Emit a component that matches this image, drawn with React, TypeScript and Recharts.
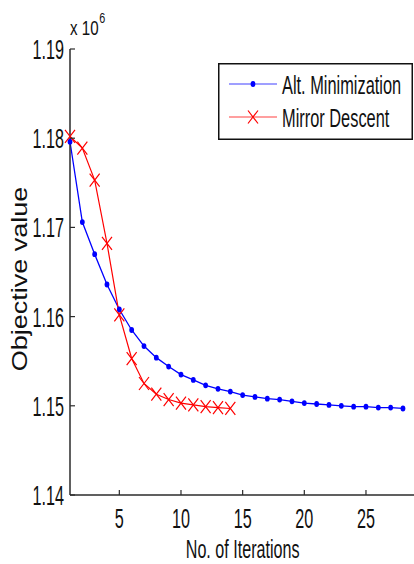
import React from "react";
import { LineChart, Line, XAxis, YAxis, Legend } from "recharts";

// objective value (x 10^6) per iteration
const iterations = [
  1, 2, 3, 4, 5, 6, 7, 8, 9, 10, 11, 12, 13, 14, 15, 16, 17, 18, 19, 20, 21,
  22, 23, 24, 25, 26, 27, 28,
];
const altMinimization = [
  1.1796, 1.1706, 1.167, 1.1636, 1.1608, 1.1585, 1.1567, 1.1554, 1.1544,
  1.1535, 1.1529, 1.1523, 1.1519, 1.1516, 1.1512, 1.151, 1.1508, 1.1507,
  1.1505, 1.1503, 1.1502, 1.1501, 1.15, 1.1499, 1.1499, 1.1498, 1.1498,
  1.1497,
];
const mirrorDescent = [
  1.1802, 1.1789, 1.1753, 1.1682, 1.1602, 1.1553, 1.1525, 1.1513, 1.1507,
  1.1503, 1.1501, 1.1499, 1.1498, 1.1497,
];
const xTicks = [5, 10, 15, 20, 25];
const yTicks = [1.14, 1.15, 1.16, 1.17, 1.18, 1.19];

const data = iterations.map((it, i) => ({
  it,
  alt: altMinimization[i],
  mirror: i < mirrorDescent.length ? mirrorDescent[i] : null,
}));

const BLUE = "#0000ff";
const RED = "#ff0000";
const AXIS = "#2b2b2b";
const FONT = "'Liberation Sans', Arial, Helvetica, sans-serif";
const TICK_LEN = 5;
const SX = 0.6; // glyphs are drawn narrow

const txt = (size: number) => ({
  fontFamily: FONT,
  fontSize: size,
  fill: "#111",
});

function BottomTick({ x, y, payload }: any) {
  return (
    <g>
      <line x1={x} y1={y} x2={x} y2={y - TICK_LEN} stroke={AXIS} strokeWidth={1.2} />
      <text
        transform={`translate(${x},${y + 33}) scale(${SX},1)`}
        textAnchor="middle"
        {...txt(27)}
      >
        {payload.value}
      </text>
    </g>
  );
}

function TopTick({ x, y }: any) {
  return <line x1={x} y1={y} x2={x} y2={y + TICK_LEN} stroke={AXIS} strokeWidth={1.2} />;
}

function LeftTick({ x, y, payload }: any) {
  return (
    <g>
      <line x1={x} y1={y} x2={x + TICK_LEN} y2={y} stroke={AXIS} strokeWidth={1.2} />
      <text
        transform={`translate(${x - 6},${y + 10}) scale(${SX},1)`}
        textAnchor="end"
        {...txt(27)}
      >
        {Number(payload.value).toFixed(2)}
      </text>
    </g>
  );
}

function RightTick({ x, y }: any) {
  return <line x1={x} y1={y} x2={x - TICK_LEN} y2={y} stroke={AXIS} strokeWidth={1.2} />;
}

function Cross({ cx, cy }: any) {
  if (cx == null || cy == null) return <g />;
  const w = 5;
  const h = 6.5;
  return (
    <path
      d={`M${cx - w},${cy - h}L${cx + w},${cy + h}M${cx - w},${cy + h}L${cx + w},${cy - h}`}
      stroke={RED}
      strokeWidth={1.2}
      fill="none"
    />
  );
}

function Dot({ cx, cy }: any) {
  if (cx == null || cy == null) return <g />;
  return <ellipse cx={cx} cy={cy} rx={2.4} ry={2.9} fill={BLUE} />;
}

function YTitle({ viewBox }: any) {
  const cy = viewBox.y + viewBox.height / 2 + 7;
  return (
    <text
      transform={`translate(${viewBox.x + 19},${cy}) rotate(-90) scale(1,0.8)`}
      textAnchor="middle"
      {...txt(27)}
    >
      Objective value
    </text>
  );
}

function XTitle({ viewBox }: any) {
  return (
    <text
      transform={`translate(${viewBox.x + viewBox.width / 2},${viewBox.y + 63}) scale(0.62,1)`}
      textAnchor="middle"
      {...txt(26)}
    >
      No. of Iterations
    </text>
  );
}

function LegendBox() {
  const rows = [
    { name: "Alt. Minimization", color: BLUE, y: 21, dot: true },
    { name: "Mirror Descent", color: RED, y: 54, dot: false },
  ];
  return (
    <svg width={195} height={77}>
      <rect x={0.75} y={0.75} width={193.5} height={75.5} fill="#fff" stroke="#111" strokeWidth={1.5} />
      {rows.map((r) => (
        <g key={r.name}>
          <line x1={11} y1={r.y} x2={59} y2={r.y} stroke={r.color} strokeWidth={1.2} strokeOpacity={0.75} />
          {r.dot ? (
            <Dot cx={35} cy={r.y} />
          ) : (
            <Cross cx={35} cy={r.y} />
          )}
          <text transform={`translate(64,${r.y + 9.5}) scale(0.63,1)`} {...txt(26)}>
            {r.name}
          </text>
        </g>
      ))}
    </svg>
  );
}

export default function App() {
  return (
    <div
      style={{
        position: "absolute",
        left: 0,
        top: 0,
        width: 414,
        height: 564,
        overflow: "hidden",
        background: "#fff",
      }}
    >
      <LineChart
        width={430}
        height={564}
        data={data}
        margin={{ top: 49, right: 14.7, bottom: 39, left: 8 }}
      >
        <XAxis
          dataKey="it"
          type="number"
          domain={[1, 29]}
          ticks={xTicks}
          height={30}
          tickSize={0}
          tickMargin={0}
          tickLine={false}
          axisLine={{ stroke: AXIS, strokeWidth: 1.5 }}
          tick={<BottomTick />}
          label={{ content: (p: any) => <XTitle {...p} /> }}
        />
        <XAxis
          xAxisId="top"
          orientation="top"
          dataKey="it"
          type="number"
          domain={[1, 29]}
          ticks={xTicks}
          height={0}
          tickSize={0}
          tickMargin={0}
          tickLine={false}
          axisLine={{ stroke: AXIS, strokeWidth: 1.5 }}
          tick={<TopTick />}
        />
        <YAxis
          type="number"
          domain={[1.14, 1.19]}
          ticks={yTicks}
          width={62}
          tickSize={0}
          tickMargin={0}
          tickLine={false}
          axisLine={{ stroke: AXIS, strokeWidth: 1.5 }}
          tick={<LeftTick />}
          allowDataOverflow
          label={{ content: (p: any) => <YTitle {...p} /> }}
        />
        <YAxis
          yAxisId="right"
          orientation="right"
          type="number"
          domain={[1.14, 1.19]}
          ticks={yTicks}
          width={0}
          tickSize={0}
          tickMargin={0}
          tickLine={false}
          axisLine={{ stroke: AXIS, strokeWidth: 1.5 }}
          tick={<RightTick />}
          allowDataOverflow
        />
        <Line
          dataKey="alt"
          stroke={BLUE}
          strokeWidth={1.3}
          dot={<Dot />}
          isAnimationActive={false}
        />
        <Line
          dataKey="mirror"
          stroke={RED}
          strokeWidth={1.2}
          dot={<Cross />}
          isAnimationActive={false}
        />
        <Legend
          layout="horizontal"
          verticalAlign="middle"
          align="center"
          wrapperStyle={{ left: 218, top: 63, width: 195, height: 77 }}
          content={() => <LegendBox />}
        />
        <text x={70} y={35} {...txt(21)} transform={`translate(70,35) scale(0.72,1) translate(-70,-35)`}>
          x 10
          <tspan dx={1} dy={-12} fontSize={15}>
            6
          </tspan>
        </text>
      </LineChart>
    </div>
  );
}
